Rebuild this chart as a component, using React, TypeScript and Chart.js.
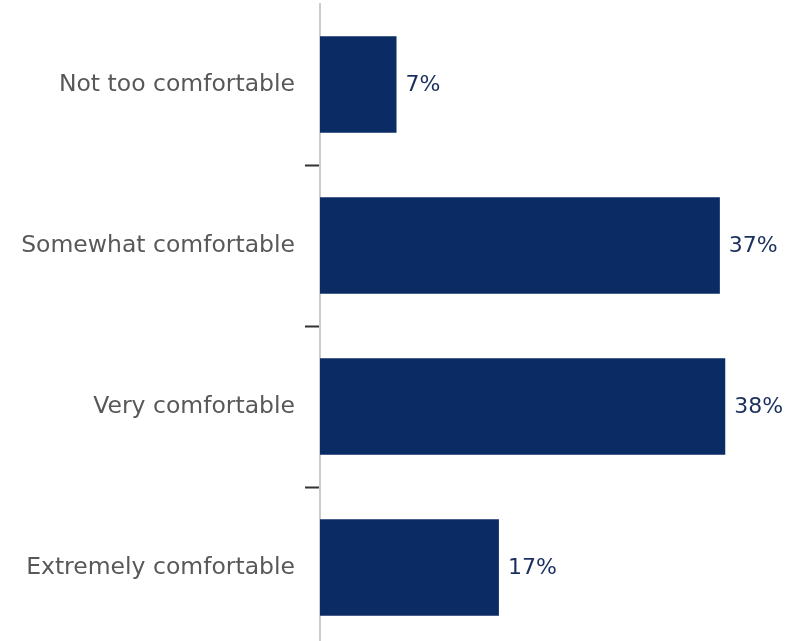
import React, { useEffect, useRef } from "react";
import { Chart, registerables } from "chart.js";

Chart.register(...registerables);

const categories = [
  "Not too comfortable",
  "Somewhat comfortable",
  "Very comfortable",
  "Extremely comfortable",
];
const values = [7.1, 37.1, 37.6, 16.6];
const valueLabels = ["7%", "37%", "38%", "17%"];

const BAR_COLOR = "#0a2b63";
const VALUE_COLOR = "#1b2f5f";
const LABEL_COLOR = "#585858";
const FONT = "'DejaVu Sans', sans-serif";

const valueLabelPlugin = {
  id: "valueLabels",
  afterDatasetsDraw(chart: any) {
    const ctx = chart.ctx;
    const meta = chart.getDatasetMeta(0);
    ctx.save();
    ctx.font = `22px ${FONT}`;
    ctx.fillStyle = VALUE_COLOR;
    ctx.textAlign = "left";
    ctx.textBaseline = "middle";
    meta.data.forEach((bar: any, i: number) => {
      ctx.fillText(valueLabels[i], bar.x + 9, bar.y + 1);
    });
    ctx.restore();
  },
};

export default function App() {
  const canvasRef = useRef<HTMLCanvasElement>(null);

  useEffect(() => {
    if (!canvasRef.current) return;
    const chart = new Chart(canvasRef.current, {
      type: "bar",
      data: {
        labels: categories,
        datasets: [
          {
            data: values,
            backgroundColor: BAR_COLOR,
            borderWidth: 0,
            categoryPercentage: 0.6,
            barPercentage: 1,
          },
        ],
      },
      options: {
        indexAxis: "y",
        responsive: false,
        animation: false,
        layout: { padding: { top: 4, bottom: 4, left: 0, right: 0 } },
        plugins: {
          legend: { display: false },
          tooltip: { enabled: false },
        },
        scales: {
          x: {
            display: false,
            min: 0,
            max: 45,
          },
          y: {
            afterFit: (scale: any) => {
              scale.width = 320;
              scale.paddingTop = 0;
              scale.paddingBottom = 0;
            },
            grid: {
              display: true,
              offset: true,
              drawOnChartArea: false,
              drawTicks: true,
              tickLength: 15,
              tickWidth: 2,
              tickColor: (ctx: any) => (ctx.index === 0 ? "rgba(0,0,0,0)" : "#333333"),
            },
            border: {
              display: true,
              color: "#cccccc",
              width: 2,
            },
            ticks: {
              padding: 10,
              color: LABEL_COLOR,
              font: { family: FONT, size: 23.5 },
            },
          },
        },
      },
      plugins: [valueLabelPlugin],
    });
    return () => chart.destroy();
  }, []);

  return (
    <div
      style={{
        position: "absolute",
        left: 0,
        top: 0,
        width: 805,
        height: 641,
        overflow: "hidden",
        background: "#ffffff",
      }}
    >
      <canvas ref={canvasRef} width={805} height={652} style={{ display: "block" }} />
    </div>
  );
}
